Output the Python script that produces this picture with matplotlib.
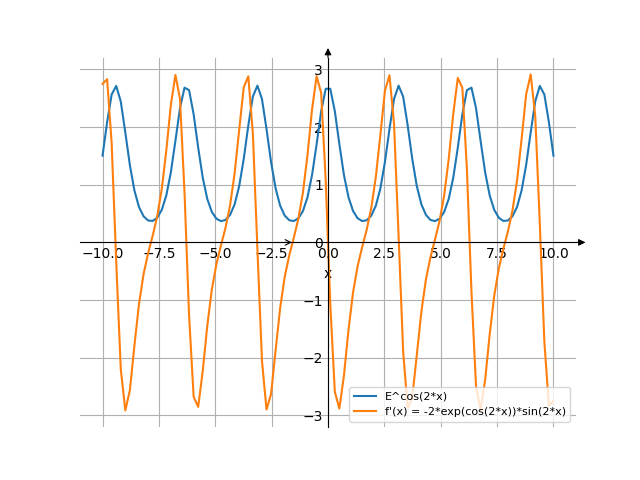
import numpy as np
import matplotlib
matplotlib.use("Agg")
import matplotlib.pyplot as plt

# sample grid: 100 points from -10 to 10
x = np.linspace(-10, 10, 100)

# E^cos(2*x)
f_vals = [
    1.504, 2.084, 2.565, 2.713, 2.444, 1.906, 1.340, 0.899, 0.613, 0.453,
    0.380, 0.372, 0.428, 0.564, 0.815, 1.217, 1.761, 2.327, 2.683, 2.640,
    2.221, 1.643, 1.122, 0.752, 0.528, 0.411, 0.369, 0.389, 0.477, 0.660,
    0.975, 1.448, 2.025, 2.528, 2.718, 2.487, 1.966, 1.393, 0.936, 0.636,
    0.464, 0.384, 0.370, 0.419, 0.545, 0.783, 1.169, 1.701, 2.275, 2.664,
    2.664, 2.275, 1.701, 1.169, 0.783, 0.545, 0.419, 0.370, 0.384, 0.464,
    0.636, 0.936, 1.393, 1.966, 2.487, 2.718, 2.528, 2.025, 1.448, 0.975,
    0.660, 0.477, 0.389, 0.369, 0.411, 0.528, 0.752, 1.122, 1.643, 2.221,
    2.640, 2.683, 2.327, 1.761, 1.217, 0.815, 0.564, 0.428, 0.372, 0.380,
    0.453, 0.613, 0.899, 1.340, 1.906, 2.444, 2.713, 2.565, 2.084, 1.504,
]

# derivative -2*exp(cos(2*x))*sin(2*x)
df_vals = [
    2.746, 2.830, 1.722, -0.334, -2.195, -2.913, -2.563, -1.787, -1.070, -0.552,
    -0.189, 0.113, 0.452, 0.924, 1.595, 2.387, 2.904, 2.492, 0.860, -1.271,
    -2.678, -2.852, -2.229, -1.443, -0.813, -0.375, -0.052, 0.255, 0.642, 1.200,
    1.950, 2.690, 2.880, 1.892, -0.112, -2.049, -2.898, -2.629, -1.868, -1.134,
    -0.596, -0.222, 0.082, 0.413, 0.867, 1.518, 2.309, 2.881, 2.592, 1.069,
    -1.069, -2.592, -2.881, -2.309, -1.518, -0.867, -0.413, -0.082, 0.222, 0.596,
    1.134, 1.868, 2.629, 2.898, 2.049, 0.112, -1.892, -2.880, -2.690, -1.950,
    -1.200, -0.642, -0.255, 0.052, 0.375, 0.813, 1.443, 2.229, 2.852, 2.678,
    1.271, -0.860, -2.492, -2.904, -2.387, -1.595, -0.924, -0.452, -0.113, 0.189,
    0.552, 1.070, 1.787, 2.563, 2.913, 2.195, 0.334, -1.722, -2.830, -2.746,
]

labels = ["E^cos(2*x)", "f'(x) = -2*exp(cos(2*x))*sin(2*x)"]

fig, ax = plt.subplots(figsize=(6.4, 4.8), dpi=100)
ax.plot(x, f_vals, label=labels[0])
ax.plot(x, df_vals, label=labels[1])

# axes through the origin, sympy style
ax.spines["left"].set_position("zero")
ax.spines["bottom"].set_position("zero")
ax.spines["right"].set_visible(False)
ax.spines["top"].set_visible(False)
ax.tick_params(length=0)

# small arrow heads at the axis ends
arrow = dict(arrowstyle="-|>", color="k", lw=0.8, mutation_scale=10,
             shrinkA=0, shrinkB=0)
ax.annotate("", xy=(1.019, 0), xytext=(1.0, 0),
            xycoords=ax.get_yaxis_transform(), textcoords=ax.get_yaxis_transform(),
            arrowprops=arrow, annotation_clip=False)
ax.annotate("", xy=(0, 1.026), xytext=(0, 1.0),
            xycoords=ax.get_xaxis_transform(), textcoords=ax.get_xaxis_transform(),
            arrowprops=arrow, annotation_clip=False)
ax.annotate("", xy=(-1.6, 0), xytext=(-1.9, 0),
            arrowprops=dict(arrowstyle="->", color="k", lw=0.8, shrinkA=0, shrinkB=0))

ax.set_xlabel("x")
ax.grid(True)
ax.legend(loc="lower right", fontsize=8)

plt.savefig("out.png")
